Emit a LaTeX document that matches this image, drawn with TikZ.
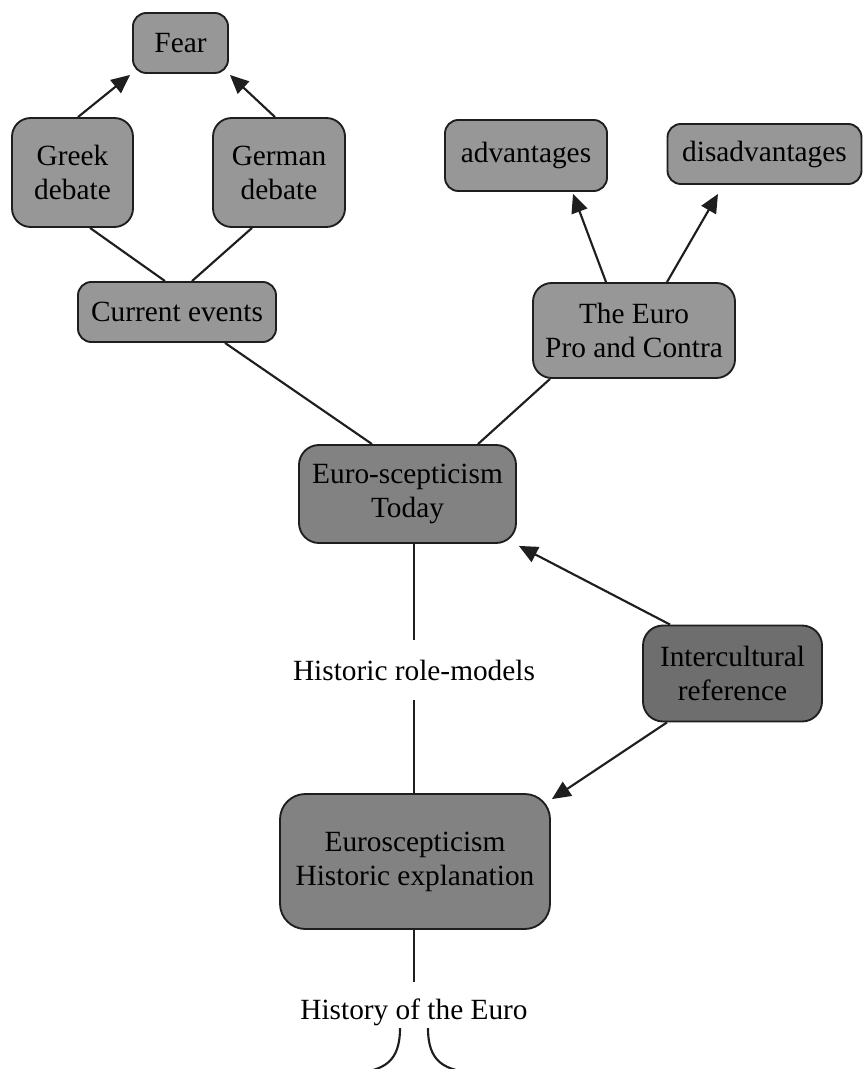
\documentclass[tikz,border=0pt]{standalone}
\usepackage{fontspec}
\setmainfont{Liberation Serif}
\usetikzlibrary{calc,arrows.meta}
\definecolor{boxlight}{HTML}{979797}
\definecolor{boxmid}{HTML}{828282}
\definecolor{boxdark}{HTML}{6E6E6E}
\definecolor{boxline}{HTML}{1E1E1E}
\begin{document}
\begin{tikzpicture}[x=0.75pt,y=-0.75pt,
  box/.style={draw=boxline,line width=1.4pt,rounded corners=10pt,inner sep=0pt,
    align=center,font=\rmfamily\fontsize{22}{25.5}\selectfont},
  size/.style 2 args={minimum width=#1*0.75pt,minimum height=#2*0.75pt},
  lbl/.style={inner sep=0pt,align=center,font=\rmfamily\fontsize{22}{25.5}\selectfont},
  link/.style={line width=1.6pt,draw=boxline},
  arr/.style={link,-{Triangle[length=14pt,width=12.5pt]}}]
\useasboundingbox (0,0) rectangle (863,1069);

% top level: fear and the two national debates
\node[box,fill=boxlight,size={95}{60}] (fear) at (180.5,43) {Fear};
\node[box,fill=boxlight,size={121}{109},rounded corners=14pt] (greek) at (72.5,172.5) {Greek\\debate};
\node[box,fill=boxlight,size={132}{109},rounded corners=14pt] (german) at (279,172.5) {German\\debate};
\node[box,fill=boxlight,size={198}{60}] (current) at (177,312) {Current events};

% the euro, for and against
\node[box,fill=boxlight,size={162}{71}] (adv) at (526,155.5) {advantages};
\node[box,fill=boxlight,size={194}{60}] (disadv) at (764.5,154) {disadvantages};
\node[box,fill=boxlight,size={202}{95},rounded corners=14pt] (procontra) at (634,330.5) {The Euro\\Pro and Contra};

% central column
\node[box,fill=boxmid,size={217}{98},rounded corners=15pt] (today) at (407.5,494) {Euro-scepticism\\Today};
\node[lbl,minimum height=60*0.75pt] (rolemodels) at (414,670) {Historic role-models};
\node[box,fill=boxdark,size={179}{96},rounded corners=15pt] (inter) at (732.5,673.5) {Intercultural\\reference};
\node[box,fill=boxmid,size={270}{135},rounded corners=19pt] (hist) at (415,861.5) {Euroscepticism\\Historic explanation};
\node[lbl,minimum height=60*0.75pt] (history) at (414,1012) {History of the Euro};

% branch ends leaving the page
\coordinate (leftend) at (356,1073);
\coordinate (rightend) at (474,1073);

% connectors
\draw[arr] ($(greek.north)+(5.5,0)$) -- ($(fear.south west)+(-2,1)$);
\draw[arr] ($(german.north)+(-4,0)$) -- ($(fear.south east)+(1,1)$);
\draw[link] ($(greek.south)+(17.5,0)$) -- ($(current.north)+(-12,0)$);
\draw[link] ($(german.south)+(-27,0)$) -- ($(current.north)+(15,0)$);
\draw[link] ($(current.south)+(48,0)$) -- ($(today.north)+(-35.5,0)$);
\draw[link] ($(procontra.south)+(-84,0)$) -- ($(today.north)+(70.5,0)$);
\draw[arr] ($(procontra.north)+(-28,0)$) -- ($(adv.south)+(47,2)$);
\draw[arr] ($(procontra.north)+(33,0)$) -- ($(disadv.south)+(-46.5,9)$);
\draw[link] ($(today.south)+(6.5,0)$) -- (rolemodels.north);
\draw[link] (rolemodels.south) -- ($(hist.north)+(-1,0)$);
\draw[arr] ($(inter.north)+(-62.5,0)$) -- ($(today.south east)+(2,2)$);
\draw[arr] ($(inter.south)+(-65.5,0)$) -- ($(hist.north east)+(1,6)$);
\draw[link] ($(hist.south)+(-1,0)$) -- (history.north);
\draw[link] ($(history.center)+(-14,16)$) .. controls ($(history.center)+(-14,50)$) and ($(history.center)+(-30,58)$) .. (leftend);
\draw[link] ($(history.center)+(14,16)$) .. controls ($(history.center)+(14,50)$) and ($(history.center)+(30,58)$) .. (rightend);
\end{tikzpicture}
\end{document}
